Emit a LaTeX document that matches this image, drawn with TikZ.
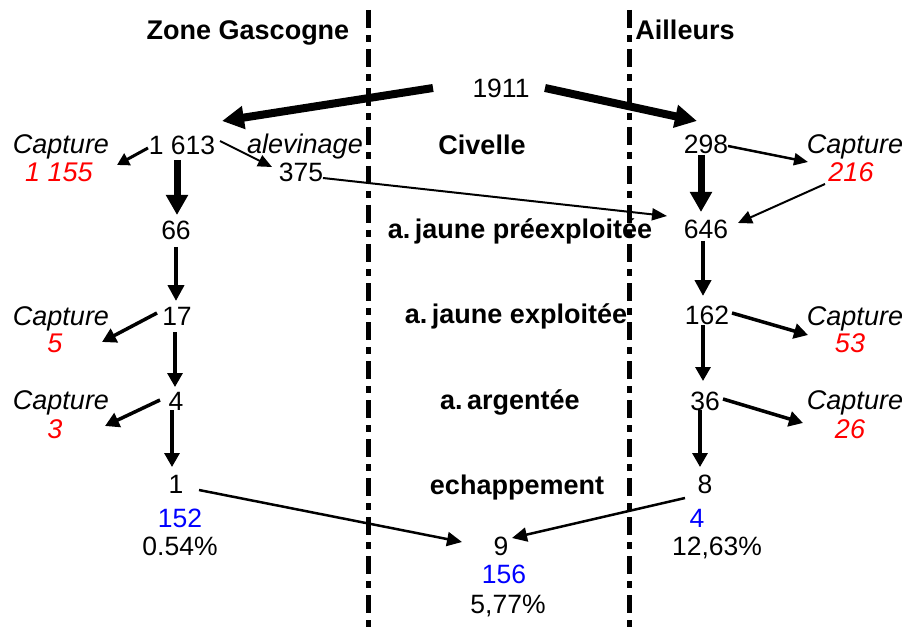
\documentclass[tikz,border=0pt]{standalone}
\usepackage{fontspec}
\setmainfont{Liberation Sans}
\usetikzlibrary{arrows.meta}
\begin{document}
\begin{tikzpicture}[x=1pt,y=-1pt,
  lbl/.style={anchor=base,inner sep=1pt,font=\fontsize{26.5}{30}\selectfont},
  stage/.style={anchor=base,inner sep=1pt,font=\fontsize{27}{30}\selectfont\bfseries},
  catch/.style={anchor=base,inner sep=1pt,font=\fontsize{27}{30}\selectfont\itshape},
  catchval/.style={catch,text=red},
  release/.style={lbl,text=blue},
  divider/.style={line width=5pt,dash pattern=on 18pt off 7pt on 7pt off 7pt},
  huge/.style={line width=8pt,-{Triangle[length=22pt,width=22pt]}},
  big/.style={line width=7pt,-{Triangle[length=20pt,width=21pt]}},
  mid/.style={line width=4.5pt,-{Triangle[length=16pt,width=16pt]}},
  small/.style={line width=3.2pt,-{Triangle[length=14pt,width=15pt]}},
  thin/.style={line width=2.2pt,-{Triangle[length=14pt,width=12pt]}}
]
\useasboundingbox (0,0) rectangle (905,631);

% zone separators
\draw[divider] (368,10) -- (368,631);
\draw[divider] (629,10) -- (629,631);

% headers and stage names
\node[stage] (zg)   at (248,40)  {Zone Gascogne};
\node[stage] (ail)  at (685,40)  {Ailleurs};
\node[stage] (civ)  at (482,155) {Civelle};
\node[stage] (pre)  at (520,239) {a.\,jaune préexploitée};
\node[stage] (expl) at (516,323) {a.\,jaune exploitée};
\node[stage] (arg)  at (510,409) {a.\,argentée};
\node[stage] (ech)  at (517,494) {echappement};

% numbers
\node[lbl] (n1911) at (501,98)  {1911};
\node[lbl] (n1613) at (182,155) {1 613};
\node[lbl] (n375)  at (301,182) {375};
\node[lbl] (n298)  at (706,154) {298};
\node[lbl] (n66)   at (176,240) {66};
\node[lbl] (n646)  at (706,239) {646};
\node[lbl] (n17)   at (177,325) {17};
\node[lbl] (n162)  at (707,324) {162};
\node[lbl] (n4)    at (176,410) {4};
\node[lbl] (n36)   at (705,410) {36};
\node[lbl] (n1)    at (176,493) {1};
\node[lbl] (n8)    at (705,493) {8};
\node[lbl] (n9)    at (501,555) {9};

\node[release] (b152) at (180,527) {152};
\node[lbl]     (p054) at (180,555) {0.54\%};
\node[release] (b156) at (504,583) {156};
\node[lbl]     (p577) at (508,613) {5,77\%};
\node[release] (b4)   at (697,527) {4};
\node[lbl]     (p1263) at (717,555) {12,63\%};

% catches and restocking
\node[catch] (alev)  at (305,154) {alevinage};
\node[catch] (capL1) at (61,154)  {Capture};
\node[catchval] (r1155) at (59,182) {1 155};
\node[catch] (capL2) at (61,325)  {Capture};
\node[catchval] (r5) at (55,352) {5};
\node[catch] (capL3) at (61,409)  {Capture};
\node[catchval] (r3) at (55,438) {3};
\node[catch] (capR1) at (855,154) {Capture};
\node[catchval] (r216) at (851,182) {216};
\node[catch] (capR2) at (855,325) {Capture};
\node[catchval] (r53) at (850,352) {53};
\node[catch] (capR3) at (855,409) {Capture};
\node[catchval] (r26) at (850,438) {26};

% flows
\draw[huge]  ([shift={(-68,-10)}]n1911.base) -- ([shift={(40,-34)}]n1613.base);
\draw[huge]  ([shift={(44,-10)}]n1911.base)  -- ([shift={(-9,-33)}]n298.base);
\draw[small,line width=3pt,-{Triangle[length=12pt,width=13pt]}]
             ([shift={(-34,-7)}]n1613.base)  -- ([shift={(56,11)}]capL1.base);
\draw[thin,line width=1.8pt] ([shift={(38,-14)}]n1613.base) -- ([shift={(-29,-15)}]n375.base);
\draw[big]   ([shift={(-5,5)}]n1613.base)    -- ([shift={(1,-25)}]n66.base);
\draw[thin,line width=2pt,-{Triangle[length=15pt,width=12pt]}]
             ([shift={(22,-4)}]n375.base)    -- ([shift={(-39,-23)}]n646.base);
\draw[thin,line width=2.5pt] ([shift={(22,-8)}]n298.base) -- ([shift={(-47,8)}]capR1.base);
\draw[big]   ([shift={(-5,1)}]n298.base)     -- ([shift={(-5,-27)}]n646.base);
\draw[thin,line width=2pt,-{Triangle[length=14pt,width=13pt]}]
             ([shift={(-26,2)}]r216.base)    -- ([shift={(32,-16)}]n646.base);
\draw[mid,line width=4pt]   ([shift={(0,7)}]n66.base) -- ([shift={(-1,-24)}]n17.base);
\draw[small,line width=3.5pt] ([shift={(-20,-12)}]n17.base) -- ([shift={(41,17)}]capL2.base);
\draw[small] ([shift={(-2,7)}]n17.base)      -- ([shift={(-1,-23)}]n4.base);
\draw[small,line width=3.5pt] ([shift={(-16,-10)}]n4.base) -- ([shift={(44,17)}]capL3.base);
\draw[small] ([shift={(-4,0)}]n4.base)       -- ([shift={(-4,-26)}]n1.base);
\draw[thin,line width=2.5pt,-{Triangle[length=15pt,width=14pt]}]
             ([shift={(23,-3)}]n1.base)      -- ([shift={(-39,-13)}]n9.base);
\draw[thin,line width=2.5pt,-{Triangle[length=15pt,width=14pt]}]
             ([shift={(-20,5)}]n8.base)      -- ([shift={(11,-17)}]n9.base);
\draw[mid]   ([shift={(-3,2)}]n646.base)     -- ([shift={(-4,-28)}]n162.base);
\draw[small,line width=3.5pt] ([shift={(25,-11)}]n162.base) -- ([shift={(-47,10)}]capR2.base);
\draw[small] ([shift={(-4,1)}]n162.base)     -- ([shift={(-2,-29)}]n36.base);
\draw[small,line width=3.5pt] ([shift={(18,-11)}]n36.base) -- ([shift={(-52,14)}]capR3.base);
\draw[small] ([shift={(-5,0)}]n36.base)      -- ([shift={(-5,-26)}]n8.base);
\end{tikzpicture}
\end{document}
